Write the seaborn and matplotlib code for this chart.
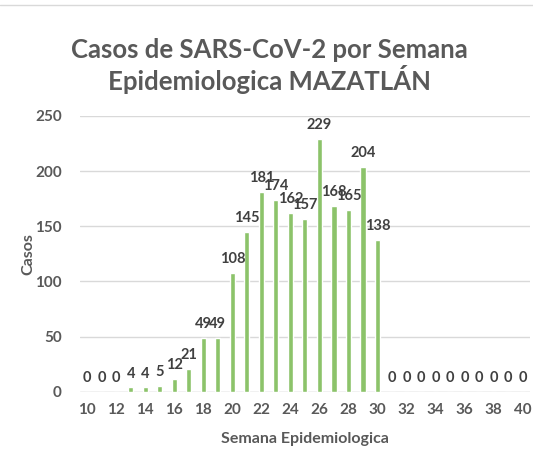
import matplotlib
matplotlib.use("Agg")
import matplotlib.pyplot as plt
import seaborn as sns
import pandas as pd

semanas = list(range(10, 41))
casos = [0, 0, 0, 4, 4, 5, 12, 21, 49, 49, 108, 145, 181, 174, 162, 157,
         229, 168, 165, 204, 138, 0, 0, 0, 0, 0, 0, 0, 0, 0, 0]
x_ticks = list(range(10, 41, 2))
y_ticks = [0, 50, 100, 150, 200, 250]

titulo = "Casos de SARS-CoV-2 por Semana\nEpidemiologica MAZATLÁN"
etiqueta_x = "Semana Epidemiologica"
etiqueta_y = "Casos"

sns.set_theme(style="white")
plt.rcParams["font.family"] = ["Lato", "DejaVu Sans"]

df = pd.DataFrame({"semana": semanas, "casos": casos})

fig = plt.figure(figsize=(5.33, 4.71), dpi=100)
ax = fig.add_axes([0.150, 0.168, 0.844, 0.586])

sns.barplot(data=df, x="semana", y="casos", native_scale=True, width=0.36,
            color="#8CC36A", saturation=1, ax=ax, zorder=3)

ax.set_xlim(9.5, 40.5)
ax.set_ylim(0, 250)
ax.set_xticks(x_ticks)
ax.set_yticks(y_ticks)
ax.grid(axis="y", color="#D9D9D9", linewidth=1, zorder=0)
ax.grid(axis="x", visible=False)
for s in ax.spines.values():
    s.set_visible(False)
ax.axhline(0, color="#D9D9D9", linewidth=1, zorder=1)

ax.tick_params(axis="both", length=0, labelsize=11, labelcolor="#595959")
ax.tick_params(axis="x", pad=8)
ax.tick_params(axis="y", pad=13)
for lbl in ax.get_xticklabels() + ax.get_yticklabels():
    lbl.set_fontweight("bold")

ax.bar_label(ax.containers[0], labels=[str(v) for v in casos], padding=5,
             fontsize=10.5, fontweight="bold", color="#404040")

ax.set_xlabel(etiqueta_x, fontsize=11.5, fontweight="bold", color="#595959", labelpad=11)
ax.set_ylabel(etiqueta_y, fontsize=11.5, fontweight="bold", color="#595959", labelpad=0)

fig.text(0.506, 0.86, titulo, ha="center", va="center", fontsize=18.5,
         fontweight="bold", color="#595959", linespacing=1.15)

fig.add_artist(plt.Line2D([0, 1], [0.989, 0.989], color="#D9D9D9", linewidth=1,
                          transform=fig.transFigure))

fig.savefig("out.png", dpi=100)
